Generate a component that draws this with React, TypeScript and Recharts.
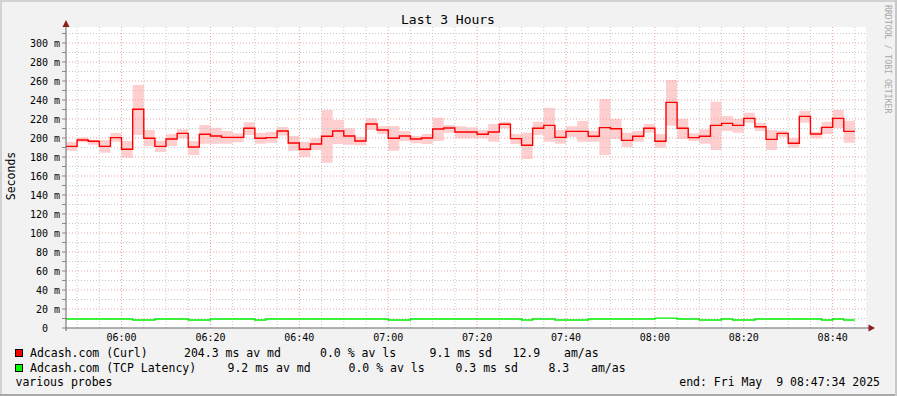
import React from 'react';
import { ComposedChart, Area, Line, XAxis, YAxis, ReferenceLine, CartesianGrid } from 'recharts';

// Step start times, minutes since midnight (05:47:30 .. 08:45:00, 2.5 min steps; last entry closes the final step)
const stepMinutes = [
  347.5, 350, 352.5, 355, 357.5, 360, 362.5, 365, 367.5, 370, 372.5, 375, 377.5, 380, 382.5, 385,
  387.5, 390, 392.5, 395, 397.5, 400, 402.5, 405, 407.5, 410, 412.5, 415, 417.5, 420, 422.5, 425,
  427.5, 430, 432.5, 435, 437.5, 440, 442.5, 445, 447.5, 450, 452.5, 455, 457.5, 460, 462.5, 465,
  467.5, 470, 472.5, 475, 477.5, 480, 482.5, 485, 487.5, 490, 492.5, 495, 497.5, 500, 502.5, 505,
  507.5, 510, 512.5, 515, 517.5, 520, 522.5, 525,
];

// Adcash.com (Curl) median, ms
const curlMedian = [
  191.2, 197.9, 196.5, 191.2, 200.4, 188.1, 230.2, 199.7, 191.2, 199.0, 204.9, 190.5, 203.9, 202.1, 200.7, 200.7,
  210.2, 199.7, 200.4, 207.4, 194.7, 188.1, 193.7, 201.8, 207.4, 202.1, 196.8, 214.7, 208.4, 199.7, 202.1, 199.0,
  200.0, 209.5, 210.5, 206.3, 206.3, 203.9, 206.3, 214.4, 199.3, 192.3, 210.2, 213.3, 200.7, 207.0, 207.0, 201.8,
  210.9, 209.8, 197.5, 201.8, 210.2, 196.5, 237.5, 210.2, 200.4, 201.8, 213.3, 215.4, 213.3, 220.7, 211.9, 198.6,
  204.9, 194.4, 222.8, 204.2, 211.2, 220.7, 207.0,
];

// Smoke band (spread of pings) low / high, ms
const curlLow = [
  186.7, 195.4, 193.0, 184.6, 196.1, 179.3, 203.2, 191.6, 185.3, 191.6, 199.7, 182.1, 194.0, 194.0, 194.0, 195.4,
  203.2, 194.0, 195.1, 202.5, 186.7, 179.9, 187.4, 174.0, 193.7, 193.0, 192.3, 208.4, 204.2, 186.7, 196.8, 194.4,
  193.7, 196.8, 205.6, 199.7, 199.7, 199.7, 196.1, 210.2, 193.7, 177.9, 203.2, 196.1, 194.0, 201.4, 196.1, 196.1,
  182.1, 198.9, 190.5, 196.1, 205.6, 189.8, 213.0, 198.9, 196.8, 194.0, 187.4, 207.4, 205.6, 216.1, 207.4, 187.4,
  201.4, 189.8, 216.1, 199.7, 204.2, 210.2, 195.1,
];
const curlHigh = [
  195.8, 200.4, 197.9, 197.9, 205.3, 196.8, 255.8, 208.4, 197.2, 204.2, 209.1, 196.8, 213.7, 210.9, 207.4, 204.9,
  216.5, 205.3, 206.3, 211.6, 202.1, 196.1, 199.7, 229.5, 219.0, 210.2, 201.4, 220.7, 212.3, 212.6, 207.4, 202.1,
  204.2, 221.4, 213.7, 212.3, 211.3, 208.4, 214.7, 217.2, 204.2, 205.6, 217.2, 231.9, 208.4, 212.3, 217.9, 207.7,
  241.1, 220.0, 205.6, 207.4, 214.7, 204.2, 261.1, 220.0, 204.9, 209.1, 238.2, 223.2, 220.0, 226.7, 216.1, 208.4,
  207.7, 199.7, 228.8, 206.7, 217.2, 229.5, 218.2,
];

// Adcash.com (TCP Latency) median, ms
const tcpMedian = [
  9.4, 9.4, 9.4, 9.4, 9.4, 9.4, 8.4, 8.4, 9.4, 9.4, 9.4, 8.4, 8.4, 9.4, 9.4, 9.4,
  9.4, 8.4, 9.4, 9.4, 9.4, 9.4, 9.4, 9.4, 9.4, 9.4, 9.4, 9.4, 9.4, 8.4, 8.4, 9.4,
  9.4, 9.4, 9.4, 9.4, 9.4, 9.4, 9.4, 9.4, 9.4, 8.4, 9.4, 9.4, 8.4, 8.4, 8.4, 9.4,
  9.4, 9.4, 9.4, 9.4, 9.4, 10.4, 10.4, 9.4, 9.4, 8.4, 8.4, 9.4, 8.4, 8.4, 9.4, 9.4,
  9.4, 9.4, 9.4, 9.4, 8.4, 9.4, 8.4,
];

const yAllTicks = [0, 10, 20, 30, 40, 50, 60, 70, 80, 90, 100, 110, 120, 130, 140, 150, 160, 170, 180, 190, 200,
  210, 220, 230, 240, 250, 260, 270, 280, 290, 300, 310];
const yMajorGrid = [20, 40, 60, 80, 100, 120, 140, 160, 180, 200, 220, 240, 260, 280, 300];
const yMinorGrid = [10, 30, 50, 70, 90, 110, 130, 150, 170, 190, 210, 230, 250, 270, 290, 310];
const xMajorTicks = [360, 380, 400, 420, 440, 460, 480, 500, 520];
const xMinorGrid = [350, 355, 365, 370, 375, 385, 390, 395, 405, 410, 415, 425, 430, 435, 445, 450, 455,
  465, 470, 475, 485, 490, 495, 505, 510, 515, 525];

const title = 'Last 3 Hours';
const yLabel = 'Seconds';
const watermark = 'RRDTOOL / TOBI OETIKER';
const legendRows = [
  { color: '#ff0000', name: 'Adcash.com (Curl)', md: '204.3 ms av md', ls: '0.0 % av ls', sd: '9.1 ms sd', amas: '12.9' },
  { color: '#00ff00', name: 'Adcash.com (TCP Latency)', md: '9.2 ms av md', ls: '0.0 % av ls', sd: '0.3 ms sd', amas: '8.3' },
];
const footLeft = 'various probes';
const footRight = 'end: Fri May  9 08:47:34 2025';

const data = stepMinutes.map((t, i) => {
  const k = Math.min(i, curlMedian.length - 1);
  return { t, med: curlMedian[k], band: [curlLow[k], curlHigh[k]], tcp: tcpMedian[k] };
});

const FONT = '"DejaVu Sans Mono", monospace';
const fmtTime = (m: number) => {
  const h = Math.floor(m / 60);
  const mm = Math.round(m - h * 60);
  return `${String(h).padStart(2, '0')}:${String(mm).padStart(2, '0')}`;
};
const fmtY = (v: number) => (v === 0 ? '0\u00a0\u00a0' : v % 20 === 0 ? `${v} m` : '');

const MAJOR = '#eba0a0';
const MINOR = '#c8c8c8';

export default function App() {
  const legendX = [
    { md: 184, ls: 320, sd: 429.5, amas: 512.5, unit: 564 },
    { md: 227.5, ls: 348.5, sd: 455.5, amas: 548.5, unit: 591 },
  ];
  return (
    <div style={{ position: 'absolute', left: 0, top: 0, width: 897, height: 396, background: '#f2f2f2', overflow: 'hidden' }}>
      <ComposedChart
        width={897}
        height={396}
        data={data}
        margin={{ top: 27, right: 31, bottom: 38, left: 0 }}
        style={{ position: 'absolute', left: 0, top: 0 }}
      >
        <CartesianGrid horizontal={false} vertical={false} fill="#ffffff" />
        <XAxis
          dataKey="t"
          type="number"
          domain={[347.5, 527.5]}
          allowDataOverflow
          ticks={xMajorTicks}
          interval={0}
          tickFormatter={fmtTime}
          tickLine={false}
          tickSize={2}
          tickMargin={3.5}
          height={30}
          axisLine={{ stroke: '#666666' }}
          tick={{ fill: '#000000', fontSize: 10, fontFamily: FONT }}
        />
        <YAxis
          type="number"
          domain={[0, 316.84]}
          allowDataOverflow
          ticks={yAllTicks}
          interval={0}
          tickFormatter={fmtY}
          width={66}
          tickSize={4}
          tickMargin={2}
          tickLine={{ stroke: '#8a8a8a' }}
          axisLine={{ stroke: '#666666' }}
          tick={{ fill: '#000000', fontSize: 10, fontFamily: FONT }}
        />
        <Area
          dataKey="band"
          type="stepAfter"
          fill="#ffcfcf"
          fillOpacity={1}
          stroke="none"
          isAnimationActive={false}
          activeDot={false}
        />
        {yMinorGrid.map((v) => (
          <ReferenceLine key={`ym${v}`} y={v} stroke={MINOR} strokeDasharray="1 2" />
        ))}
        {yMajorGrid.map((v) => (
          <ReferenceLine key={`yM${v}`} y={v} stroke={MAJOR} strokeDasharray="1 2" />
        ))}
        {xMinorGrid.map((v) => (
          <ReferenceLine key={`xm${v}`} x={v} stroke={MINOR} strokeDasharray="1 2" />
        ))}
        {xMajorTicks.map((v) => (
          <ReferenceLine key={`xM${v}`} x={v} stroke={MAJOR} strokeDasharray="1 2" />
        ))}
        <Line dataKey="tcp" type="stepAfter" stroke="#00ee00" strokeWidth={1.4} dot={false} activeDot={false} isAnimationActive={false} />
        <Line dataKey="med" type="stepAfter" stroke="#ff0000" strokeWidth={1.4} dot={false} activeDot={false} isAnimationActive={false} />
      </ComposedChart>
      <svg width={897} height={396} style={{ position: 'absolute', left: 0, top: 0, pointerEvents: 'none' }}>
        {/* frame */}
        <rect x={0} y={0} width={897} height={2} fill="#d2d2d2" />
        <rect x={0} y={0} width={2} height={396} fill="#d2d2d2" />
        <rect x={0} y={394} width={897} height={2} fill="#a8a8a8" />
        <rect x={895} y={0} width={2} height={396} fill="#c8c8c8" />
        {/* axis extensions and arrows */}
        <line x1={66} y1={24} x2={66} y2={27} stroke="#666666" />
        <line x1={66} y1={328} x2={66} y2={331} stroke="#666666" />
        <line x1={866} y1={328} x2={870} y2={328} stroke="#666666" />
        <polygon points="66,20 62.5,27 69.5,27" fill="#8b1c1c" />
        <polygon points="875,328 868.5,324.5 868.5,331.5" fill="#8b1c1c" />
        {/* title */}
        <text x={448} y={23.5} textAnchor="middle" fontFamily={FONT} fontSize={13} fill="#000">{title}</text>
        {/* y label */}
        <text transform="translate(14.5,176) rotate(-90)" textAnchor="middle" fontFamily={FONT} fontSize={11.5} fill="#000">{yLabel}</text>
        {/* watermark */}
        <text transform="translate(885,5) rotate(90)" fontFamily={FONT} fontSize={8.2} fill="#a8a8a8">{watermark}</text>
        {/* legend */}
        {legendRows.map((r, i) => {
          const base = 357.3 + i * 15;
          const lx = legendX[i];
          return (
            <g key={r.name} fontFamily={FONT} fontSize={11.5} fill="#000">
              <rect x={15.5} y={349.5 + i * 15} width={7} height={7} fill={r.color} stroke="#000" strokeWidth={1} />
              <text x={30} y={base}>{r.name}</text>
              <text x={lx.md} y={base}>{r.md}</text>
              <text x={lx.ls} y={base}>{r.ls}</text>
              <text x={lx.sd} y={base}>{r.sd}</text>
              <text x={lx.amas} y={base}>{r.amas}</text>
              <text x={lx.unit} y={base}>am/as</text>
            </g>
          );
        })}
        <text x={15.5} y={385.5} fontFamily={FONT} fontSize={11.5} fill="#000">{footLeft}</text>
        <text x={880} y={385.5} textAnchor="end" fontFamily={FONT} fontSize={11.5} fill="#000" style={{ whiteSpace: 'pre' }}>{footRight}</text>
      </svg>
    </div>
  );
}
